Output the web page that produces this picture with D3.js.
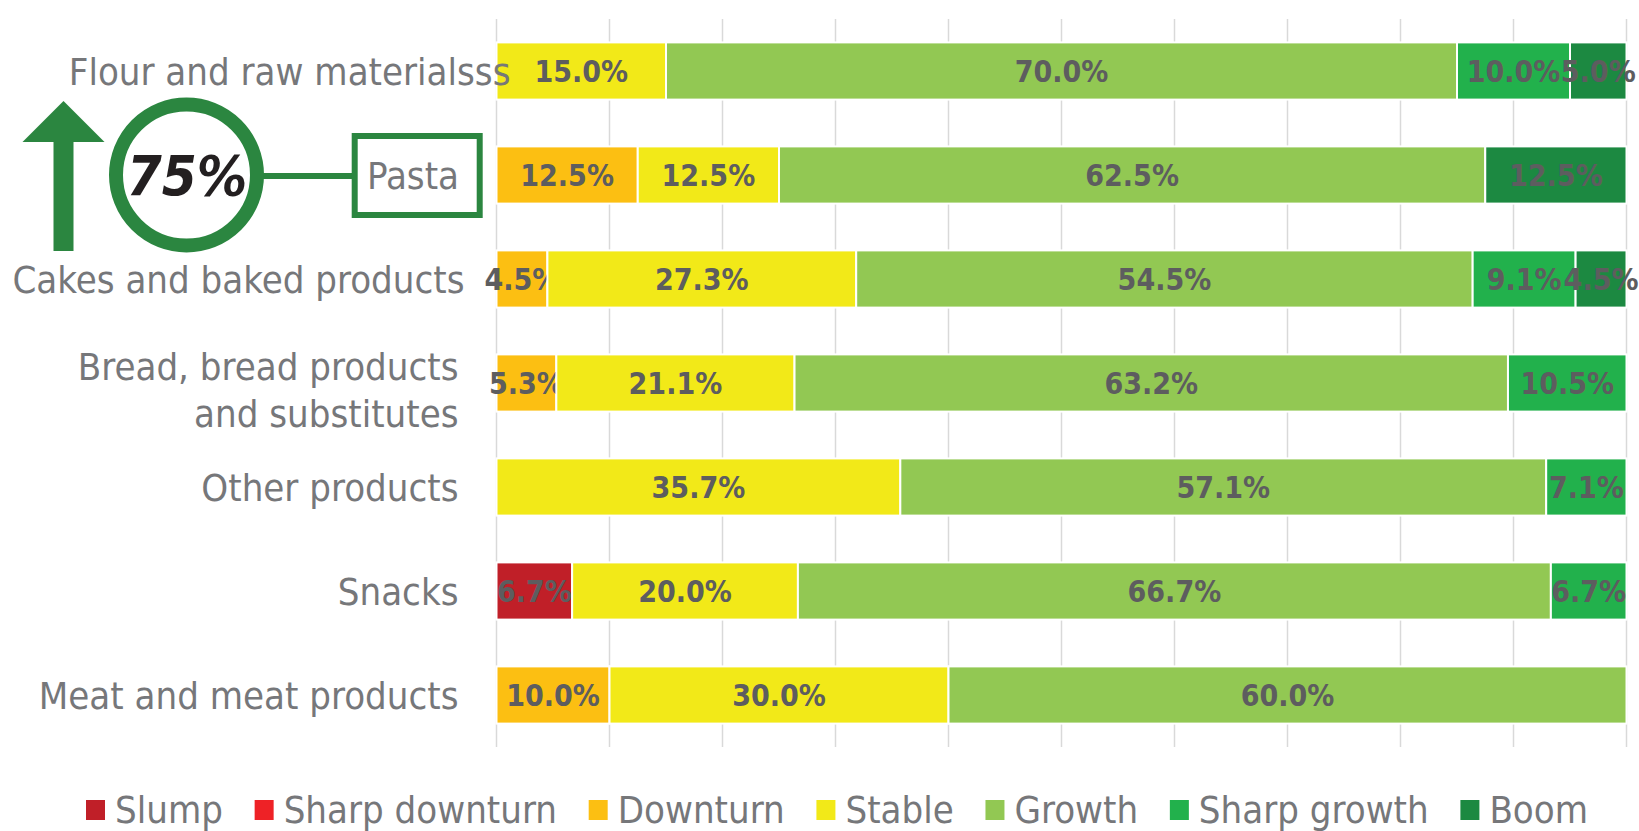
<!DOCTYPE html>
<html>
<head>
<meta charset="utf-8">
<script src="https://cdn.jsdelivr.net/npm/d3@7"></script>
<style>
  body { margin: 0; background: #fff; }
  svg { display: block; }
  .cat { font-family: "DejaVu Sans Condensed", "DejaVu Sans", sans-serif; font-stretch: condensed; font-size: 38px; fill: #76777a; }
  .val { font-family: "DejaVu Sans Condensed", "DejaVu Sans", sans-serif; font-stretch: condensed; font-weight: bold; font-size: 30px; fill: #5d5d5f; }
  .leg { font-family: "DejaVu Sans Condensed", "DejaVu Sans", sans-serif; font-stretch: condensed; font-size: 38px; fill: #76777a; }
</style>
</head>
<body>
<div id="main"></div>
<script>
// categories top to bottom
const categories = [
  "Flour and raw materialsss",
  "Pasta",
  "Cakes and baked products",
  "Bread, bread products and substitutes",
  "Other products",
  "Snacks",
  "Meat and meat products"
];

const seriesNames = ["Slump", "Sharp downturn", "Downturn", "Stable", "Growth", "Sharp growth", "Boom"];
const seriesColors = ["#c01f28", "#ee2226", "#fcbf12", "#f2e918", "#92c853", "#22b14c", "#1c8941"];

// one array per series, values in % in the order of categories
const slump         = [0, 0, 0, 0, 0, 6.7, 0];
const sharpDownturn = [0, 0, 0, 0, 0, 0, 0];
const downturn      = [0, 12.5, 4.5, 5.3, 0, 0, 10.0];
const stable        = [15.0, 12.5, 27.3, 21.1, 35.7, 20.0, 30.0];
const growth        = [70.0, 62.5, 54.5, 63.2, 57.1, 66.7, 60.0];
const sharpGrowth   = [10.0, 0, 9.1, 10.5, 7.1, 6.7, 0];
const boom          = [5.0, 12.5, 4.5, 0, 0, 0, 0];

const xTicks = [0, 0.1, 0.2, 0.3, 0.4, 0.5, 0.6, 0.7, 0.8, 0.9, 1];

const highlight = { category: "Pasta", value: "75%" };

const width = 1639, height = 831;

const seriesValues = [slump, sharpDownturn, downturn, stable, growth, sharpGrowth, boom];

const rows = categories.map((c, i) => {
  const r = { category: c };
  let total = 0;
  seriesNames.forEach((s, j) => { r[s] = seriesValues[j][i]; total += seriesValues[j][i]; });
  r.total = total;
  return r;
});

// 100% stacked -> normalise each row
const stack = d3.stack().keys(seriesNames).value((d, k) => d[k] / d.total);
const layers = stack(rows);

const x = d3.scaleLinear().domain([0, 1]).range([496.5, 1626.5]);
const y = d3.scaleBand().domain(categories).range([19, 747]).paddingInner(0.45).paddingOuter(0.225);

const svg = d3.select("#main").append("svg").attr("width", width).attr("height", height);

// gridlines
svg.append("g").selectAll("line").data(xTicks).enter().append("line")
  .attr("x1", d => x(d)).attr("x2", d => x(d))
  .attr("y1", y.range()[0]).attr("y2", y.range()[1])
  .attr("stroke", "#d9d9d9").attr("stroke-width", 1.5);

// bars
const layerG = svg.append("g").selectAll("g").data(layers).enter().append("g")
  .attr("fill", (d, i) => seriesColors[i]);

layerG.selectAll("rect").data(d => d.filter(p => p[1] - p[0] > 0)).enter().append("rect")
  .attr("x", d => x(d[0]))
  .attr("y", d => y(d.data.category))
  .attr("width", d => x(d[1]) - x(d[0]))
  .attr("height", y.bandwidth())
  .attr("stroke", "#fff").attr("stroke-width", 2);

// value labels
layerG.each(function(layer) {
  d3.select(this).selectAll("text").data(layer.filter(p => p[1] - p[0] > 0)).enter().append("text")
    .attr("class", "val")
    .attr("x", d => (x(d[0]) + x(d[1])) / 2)
    .attr("y", d => y(d.data.category) + y.bandwidth() / 2)
    .attr("dy", "0.37em")
    .attr("text-anchor", "middle")
    .text(d => d.data[layer.key].toFixed(1) + "%");
});

// category labels (the highlighted one is replaced by the badge)
const labelX = x(0) - 38;
categories.forEach((c, i) => {
  if (c === highlight.category) return;
  const yc = y(c) + y.bandwidth() / 2;
  const t = svg.append("text").attr("class", "cat").attr("text-anchor", "end");
  if (i === 0) {
    t.attr("x", labelX + 52).attr("y", yc).attr("dy", "0.37em").text(c);
  } else if (c.indexOf(" and substitutes") > 0) {
    const parts = ["Bread, bread products", "and substitutes"];
    t.attr("x", labelX).attr("y", yc - 3);
    t.append("tspan").attr("x", labelX).text(parts[0]);
    t.append("tspan").attr("x", labelX).attr("dy", 47).text(parts[1]);
  } else {
    t.attr("x", labelX + (c.length > 22 ? 6 : 0)).attr("y", yc).attr("dy", "0.37em").text(c);
  }
});

// highlight badge: arrow, circle with value, connector, boxed label
const green = "#2b8640";
const hy = y(highlight.category) + y.bandwidth() / 2;
const ax = 63.5;
svg.append("path")
  .attr("d", `M${ax},${hy - 74} L${ax + 41},${hy - 33} L${ax + 10},${hy - 33} L${ax + 10},${hy + 76}
              L${ax - 10},${hy + 76} L${ax - 10},${hy - 33} L${ax - 41},${hy - 33} Z`)
  .attr("fill", green);

svg.append("line").attr("x1", 258).attr("x2", 355).attr("y1", hy + 1).attr("y2", hy + 1)
  .attr("stroke", green).attr("stroke-width", 6);

svg.append("circle").attr("cx", 186.5).attr("cy", hy).attr("r", 70.5)
  .attr("fill", "#fff").attr("stroke", green).attr("stroke-width", 14);

svg.append("text").attr("x", 187).attr("y", hy + 20).attr("text-anchor", "middle")
  .style("font-family", "'DejaVu Sans Condensed', 'DejaVu Sans', sans-serif")
  .style("font-stretch", "condensed")
  .style("font-weight", "bold").style("font-style", "italic").style("font-size", "56px")
  .attr("fill", "#231f20").text(highlight.value);

svg.append("rect").attr("x", 354.7).attr("y", hy - 39).attr("width", 125).attr("height", 79)
  .attr("fill", "#fff").attr("stroke", green).attr("stroke-width", 6);

svg.append("text").attr("class", "cat").attr("x", 413).attr("y", hy + 14).attr("text-anchor", "middle")
  .style("font-size", "38px").text(highlight.category);

// legend
const legG = svg.append("g");
const items = legG.selectAll("g").data(seriesNames).enter().append("g");
items.append("rect").attr("width", 19).attr("height", 20).attr("y", 800)
  .attr("fill", (d, i) => seriesColors[i]);
items.append("text").attr("class", "leg").attr("x", 29).attr("y", 823).text(d => d);

const legStart = 86, legEnd = 1588;
const widths = [];
items.each(function() { widths.push(29 + d3.select(this).select("text").node().getComputedTextLength()); });
const gap = (legEnd - legStart - d3.sum(widths)) / (widths.length - 1);
let cx = legStart;
items.attr("transform", (d, i) => { const t = `translate(${cx},0)`; cx += widths[i] + gap; return t; });
</script>
</body>
</html>
